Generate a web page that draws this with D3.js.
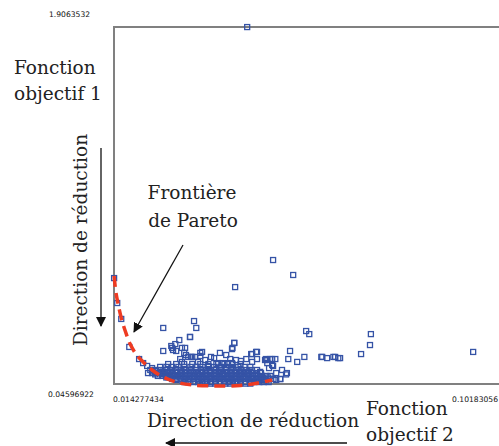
<!DOCTYPE html>
<html>
<head>
<meta charset="utf-8">
<script src="https://cdn.jsdelivr.net/npm/d3@7"></script>
<style>
  body { margin: 0; background: #fff; }
  svg { display: block; }
</style>
</head>
<body>
<div id="place"></div>
<script>
// bornes des axes
const xMin = 0.014277434, xMax = 0.10183056;
const yMin = 0.04596922, yMax = 1.9063532;
const xTickLabels = ["0.014277434", "0.10183056"];
const yTickLabels = ["1.9063532", "0.04596922"];

// points isolés [objectif 2, objectif 1]
const pointsEpars = [
  [0.0143, 0.598], [0.0150, 0.468], [0.0159, 0.385], [0.0177, 0.239], [0.0199, 0.176],
  [0.0253, 0.338], [0.0253, 0.218], [0.0273, 0.234], [0.0275, 0.223], [0.0271, 0.244],
  [0.0280, 0.254], [0.0289, 0.275], [0.0295, 0.234], [0.0300, 0.208], [0.0313, 0.291],
  [0.0322, 0.374], [0.0327, 0.338], [0.0336, 0.208], [0.0291, 0.176], [0.0309, 0.187],
  [0.0318, 0.187], [0.0324, 0.187], [0.0295, 0.161], [0.0331, 0.161], [0.0347, 0.171],
  [0.0367, 0.181], [0.0354, 0.140], [0.0380, 0.208], [0.0394, 0.197], [0.0407, 0.228],
  [0.0412, 0.260], [0.0414, 0.551], [0.0499, 0.692], [0.0544, 0.614], [0.0450, 0.202],
  [0.0461, 0.213], [0.0376, 0.155], [0.0385, 0.155], [0.0398, 0.155], [0.0407, 0.155],
  [0.0403, 0.176], [0.0416, 0.171], [0.0427, 0.166], [0.0439, 0.176], [0.0452, 0.161],
  [0.0463, 0.176], [0.0481, 0.171], [0.0492, 0.176], [0.0504, 0.176], [0.0486, 0.155],
  [0.0497, 0.145], [0.0470, 0.109], [0.0490, 0.129], [0.0499, 0.140], [0.0506, 0.103],
  [0.0519, 0.119], [0.0530, 0.103], [0.0515, 0.072], [0.0506, 0.067], [0.0488, 0.072],
  [0.0475, 0.067], [0.0537, 0.218], [0.0533, 0.176], [0.0553, 0.161], [0.0569, 0.187],
  [0.0573, 0.322], [0.0580, 0.306], [0.0607, 0.187], [0.0609, 0.187], [0.0620, 0.181],
  [0.0634, 0.187], [0.0638, 0.187], [0.0645, 0.181], [0.0649, 0.181], [0.0696, 0.202],
  [0.0716, 0.249], [0.0718, 0.306], [0.0947, 0.213], [0.0441, 1.906], [0.0483, 0.176],
  [0.0340, 0.213], [0.0360, 0.187], [0.0313, 0.291], [0.0302, 0.234], [0.0282, 0.218],
  [0.0304, 0.197], [0.0315, 0.187], [0.0336, 0.192], [0.0412, 0.260], [0.0408, 0.234],
  [0.0452, 0.202], [0.0463, 0.213], [0.0497, 0.176], [0.0486, 0.171], [0.0528, 0.096],
  [0.0515, 0.072], [0.0208, 0.155], [0.0217, 0.140], [0.0228, 0.129], [0.0237, 0.114],
  [0.0251, 0.098], [0.0264, 0.082], [0.0282, 0.067], [0.0300, 0.056]
];

// nuage dense au bas du graphique, par rangée
const rangeesY = [0.048, 0.056, 0.064, 0.072, 0.080, 0.088, 0.096, 0.103, 0.111, 0.119, 0.135, 0.150];
const rangeesX = [
  [0.0336, 0.0347, 0.0358, 0.0369, 0.0380, 0.0392, 0.0403, 0.0414, 0.0425, 0.0437, 0.0448],
  [0.0309, 0.0320, 0.0331, 0.0340, 0.0351, 0.0360, 0.0370, 0.0380, 0.0389, 0.0400, 0.0409,
   0.0419, 0.0427, 0.0438, 0.0448, 0.0457, 0.0468, 0.0478, 0.0489],
  [0.0296, 0.0314, 0.0333, 0.0352, 0.0371, 0.0390, 0.0408, 0.0427, 0.0446, 0.0465, 0.0484],
  [0.0273, 0.0283, 0.0292, 0.0302, 0.0311, 0.0321, 0.0330, 0.0339, 0.0349, 0.0358, 0.0368,
   0.0377, 0.0386, 0.0396, 0.0405, 0.0414, 0.0424, 0.0433, 0.0443, 0.0452, 0.0461, 0.0471,
   0.0481, 0.0491, 0.0500],
  [0.0260, 0.0279, 0.0298, 0.0317, 0.0336, 0.0355, 0.0374, 0.0393, 0.0412, 0.0431, 0.0450,
   0.0469, 0.0488],
  [0.0241, 0.0250, 0.0259, 0.0268, 0.0277, 0.0287, 0.0296, 0.0305, 0.0314, 0.0324, 0.0333,
   0.0343, 0.0352, 0.0361, 0.0371, 0.0380, 0.0390, 0.0399, 0.0408, 0.0418, 0.0427, 0.0437,
   0.0446, 0.0455, 0.0465, 0.0474, 0.0484, 0.0493],
  [0.0235, 0.0254, 0.0272, 0.0291, 0.0310, 0.0329, 0.0347, 0.0366, 0.0385, 0.0404, 0.0422,
   0.0441, 0.0460],
  [0.0219, 0.0228, 0.0237, 0.0246, 0.0256, 0.0265, 0.0274, 0.0284, 0.0293, 0.0302, 0.0312,
   0.0321, 0.0331, 0.0340, 0.0349, 0.0359, 0.0368, 0.0378, 0.0387, 0.0396, 0.0406, 0.0415,
   0.0425, 0.0434, 0.0443, 0.0453, 0.0462, 0.0472],
  [0.0231, 0.0252, 0.0273, 0.0295, 0.0316, 0.0338, 0.0359, 0.0380, 0.0402, 0.0423, 0.0445],
  [0.0224, 0.0235, 0.0247, 0.0258, 0.0269, 0.0281, 0.0292, 0.0303, 0.0315, 0.0326, 0.0337,
   0.0349, 0.0360, 0.0371, 0.0383, 0.0394, 0.0405, 0.0417, 0.0428, 0.0439, 0.0451, 0.0463],
  [0.0246, 0.0260, 0.0273, 0.0287, 0.0300, 0.0314, 0.0327, 0.0341, 0.0354, 0.0367, 0.0381,
   0.0394, 0.0408, 0.0421, 0.0435, 0.0448],
  [0.0264, 0.0282, 0.0300, 0.0318, 0.0336, 0.0354, 0.0372, 0.0390, 0.0408, 0.0426]
];

// frontière de Pareto
const paretoX = [0.0143, 0.0147, 0.0152, 0.0159, 0.0168, 0.0179, 0.0192, 0.0208, 0.0228,
  0.0253, 0.0282, 0.0318, 0.0369, 0.0425, 0.0465, 0.0497];
const paretoY = [0.609, 0.525, 0.463, 0.390, 0.322, 0.254, 0.202, 0.161, 0.119,
  0.082, 0.056, 0.041, 0.036, 0.038, 0.051, 0.067];

const width = 499, height = 446;
const margin = { top: 27, right: -6, bottom: 62, left: 114 };

let svg = d3.select("#place")
  .append("svg")
  .attr("width", width)
  .attr("height", height);

const x = d3.scaleLinear().domain([xMin, xMax]).range([margin.left, width - margin.right]);
const y = d3.scaleLinear().domain([yMin, yMax]).range([height - margin.bottom, margin.top]);

svg.append("defs").append("marker")
  .attr("id", "fleche")
  .attr("viewBox", "0 0 10 10")
  .attr("refX", 9).attr("refY", 5)
  .attr("markerWidth", 10).attr("markerHeight", 10)
  .attr("markerUnits", "userSpaceOnUse")
  .attr("orient", "auto")
  .append("path")
  .attr("d", "M0,0 L10,5 L0,10 Z")
  .attr("fill", "#111");

// cadre
const cadre = svg.append("g").attr("stroke", "#808080").attr("stroke-width", 2).attr("fill", "none");
cadre.append("path")
  .attr("d", d3.line()([[x(xMax), y(yMax)], [x(xMin), y(yMax)], [x(xMin), y(yMin)], [x(xMax), y(yMin)]]));

// points
const tous = pointsEpars.slice();
rangeesX.forEach((r, i) => r.forEach(v => tous.push([v, rangeesY[i]])));

svg.append("g")
  .selectAll("rect")
  .data(tous)
  .join("rect")
  .attr("x", d => x(d[0]) - 2.5)
  .attr("y", d => y(d[1]) - 2.5)
  .attr("width", 5)
  .attr("height", 5)
  .attr("fill", "none")
  .attr("stroke", "#3553a6")
  .attr("stroke-width", 1.3);

// courbe rouge
const pareto = paretoX.map((v, i) => [v, paretoY[i]]);
svg.append("path")
  .datum(pareto)
  .attr("d", d3.line().x(d => x(d[0])).y(d => y(d[1])).curve(d3.curveCatmullRom))
  .attr("fill", "none")
  .attr("stroke", "#ee3b22")
  .attr("stroke-width", 3.5)
  .attr("stroke-dasharray", "11,6");

// graduations
const petit = { "font-family": "DejaVu Sans, sans-serif", "font-size": "7.6px", "fill": "#111" };
function texte(g, t, px, py, anchor, style) {
  let n = g.append("text").attr("x", px).attr("y", py).attr("text-anchor", anchor).text(t);
  Object.entries(style).forEach(([k, v]) => n.attr(k, v));
  return n;
}
texte(svg, yTickLabels[0], 49, 17, "start", petit);
texte(svg, yTickLabels[1], 48, 397, "start", petit);
texte(svg, xTickLabels[0], x(xMin) - 1, 402, "start", petit);
texte(svg, xTickLabels[1], 498, 402, "end", petit);

// annotations
const grand = { "font-family": "DejaVu Serif, serif", "font-size": "18.5px", "fill": "#222" };
texte(svg, "Fonction", 14, 74, "start", grand);
texte(svg, "objectif 1", 14, 100, "start", grand);
texte(svg, "Fonction", 366, 415, "start", grand);
texte(svg, "objectif 2", 366, 441, "start", grand);
texte(svg, "Frontière", 192, 199, "middle", grand);
texte(svg, "de Pareto", 193, 227, "middle", grand);
texte(svg, "Direction de réduction", 253, 427, "middle", grand);
texte(svg, "Direction de réduction", 0, 0, "middle", grand)
  .attr("transform", "translate(87,240) rotate(-90)");

const fleches = [
  [[101, 148], [101, 326]],
  [[347, 443], [166, 443]],
  [[183, 245], [134, 332]]
];
svg.append("g")
  .selectAll("path")
  .data(fleches)
  .join("path")
  .attr("d", d => d3.line()(d))
  .attr("stroke", "#111")
  .attr("stroke-width", 1.3)
  .attr("fill", "none")
  .attr("marker-end", "url(#fleche)");
</script>
</body>
</html>
